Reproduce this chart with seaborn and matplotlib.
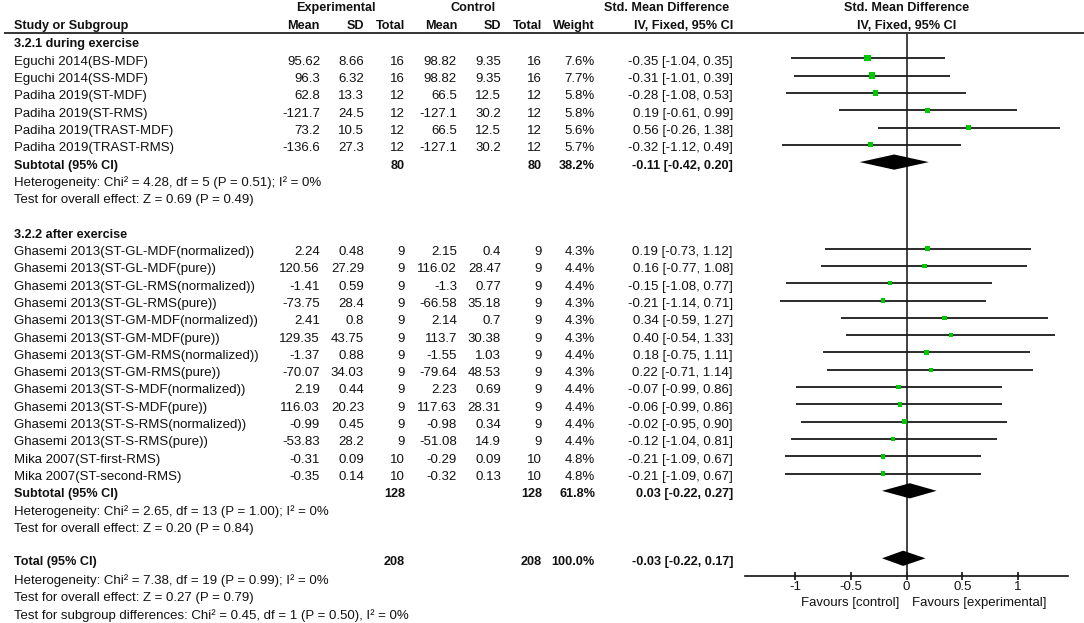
import matplotlib
matplotlib.use("Agg")
import matplotlib.pyplot as plt
import seaborn as sns
import pandas as pd

# Study level data
study = ["Eguchi 2014(BS-MDF)", "Eguchi 2014(SS-MDF)", "Padiha 2019(ST-MDF)",
         "Padiha 2019(ST-RMS)", "Padiha 2019(TRAST-MDF)", "Padiha 2019(TRAST-RMS)",
         "Ghasemi 2013(ST-GL-MDF(normalized))", "Ghasemi 2013(ST-GL-MDF(pure))",
         "Ghasemi 2013(ST-GL-RMS(normalized))", "Ghasemi 2013(ST-GL-RMS(pure))",
         "Ghasemi 2013(ST-GM-MDF(normalized))", "Ghasemi 2013(ST-GM-MDF(pure))",
         "Ghasemi 2013(ST-GM-RMS(normalized))", "Ghasemi 2013(ST-GM-RMS(pure))",
         "Ghasemi 2013(ST-S-MDF(normalized))", "Ghasemi 2013(ST-S-MDF(pure))",
         "Ghasemi 2013(ST-S-RMS(normalized))", "Ghasemi 2013(ST-S-RMS(pure))",
         "Mika 2007(ST-first-RMS)", "Mika 2007(ST-second-RMS)"]
exp_mean = [95.62, 96.3, 62.8, -121.7, 73.2, -136.6,
            2.24, 120.56, -1.41, -73.75, 2.41, 129.35, -1.37, -70.07,
            2.19, 116.03, -0.99, -53.83, -0.31, -0.35]
exp_sd = [8.66, 6.32, 13.3, 24.5, 10.5, 27.3,
          0.48, 27.29, 0.59, 28.4, 0.8, 43.75, 0.88, 34.03,
          0.44, 20.23, 0.45, 28.2, 0.09, 0.14]
exp_n = [16, 16, 12, 12, 12, 12] + [9] * 12 + [10, 10]
ctl_mean = [98.82, 98.82, 66.5, -127.1, 66.5, -127.1,
            2.15, 116.02, -1.3, -66.58, 2.14, 113.7, -1.55, -79.64,
            2.23, 117.63, -0.98, -51.08, -0.29, -0.32]
ctl_sd = [9.35, 9.35, 12.5, 30.2, 12.5, 30.2,
          0.4, 28.47, 0.77, 35.18, 0.7, 30.38, 1.03, 48.53,
          0.69, 28.31, 0.34, 14.9, 0.09, 0.13]
ctl_n = [16, 16, 12, 12, 12, 12] + [9] * 12 + [10, 10]
weight = [7.6, 7.7, 5.8, 5.8, 5.6, 5.7,
          4.3, 4.4, 4.4, 4.3, 4.3, 4.3, 4.4, 4.3, 4.4, 4.4, 4.4, 4.4, 4.8, 4.8]
smd = [-0.35, -0.31, -0.28, 0.19, 0.56, -0.32,
       0.19, 0.16, -0.15, -0.21, 0.34, 0.40, 0.18, 0.22, -0.07, -0.06, -0.02, -0.12, -0.21, -0.21]
ci_lo = [-1.04, -1.01, -1.08, -0.61, -0.26, -1.12,
         -0.73, -0.77, -1.08, -1.14, -0.59, -0.54, -0.75, -0.71, -0.99, -0.99, -0.95, -1.04, -1.09, -1.09]
ci_hi = [0.35, 0.39, 0.53, 0.99, 1.38, 0.49,
         1.12, 1.08, 0.77, 0.71, 1.27, 1.33, 1.11, 1.14, 0.86, 0.86, 0.90, 0.81, 0.67, 0.67]

# Pooled estimates
pool_label = ["Subtotal (95% CI)", "Subtotal (95% CI)", "Total (95% CI)"]
pool_exp_n = [80, 128, 208]
pool_ctl_n = [80, 128, 208]
pool_weight = [38.2, 61.8, 100.0]
pool_smd = [-0.11, 0.03, -0.03]
pool_lo = [-0.42, -0.22, -0.22]
pool_hi = [0.20, 0.27, 0.17]

group_titles = ["3.2.1 during exercise", "3.2.2 after exercise"]
notes = ["Heterogeneity: Chi\u00b2 = 4.28, df = 5 (P = 0.51); I\u00b2 = 0%",
         "Test for overall effect: Z = 0.69 (P = 0.49)",
         "Heterogeneity: Chi\u00b2 = 2.65, df = 13 (P = 1.00); I\u00b2 = 0%",
         "Test for overall effect: Z = 0.20 (P = 0.84)",
         "Heterogeneity: Chi\u00b2 = 7.38, df = 19 (P = 0.99); I\u00b2 = 0%",
         "Test for overall effect: Z = 0.27 (P = 0.79)",
         "Test for subgroup differences: Chi\u00b2 = 0.45, df = 1 (P = 0.50), I\u00b2 = 0%"]
xticks = [-1, -0.5, 0, 0.5, 1]
xtick_labels = ["-1", "-0.5", "0", "0.5", "1"]

# Row layout
study_rows = list(range(1, 7)) + list(range(12, 26))
pool_rows = [7, 26, 29.9]
title_rows = [0, 11]
note_rows = [8, 9, 27, 28, 31, 32, 33]
TOFF = 0.2
YLIM = (33.64, -2.37)

df = pd.DataFrame({"study": study, "smd": smd, "lo": ci_lo, "hi": ci_hi,
                   "weight": weight, "row": study_rows})

sns.set_style("white")
plt.rcParams["font.family"] = ["Liberation Sans", "DejaVu Sans"]
FS = 9.5
FSB = 9.1
TC = "#111111"

fig = plt.figure(figsize=(10.84, 6.23), dpi=100)

# table part
ax_t = fig.add_axes([0, 0, 1, 1])
ax_t.set_xlim(0, 1084)
ax_t.set_ylim(*YLIM)
ax_t.axis("off")

col_x = {"name": 14, "em": 320, "esd": 364, "en": 405, "cm": 457, "csd": 501,
         "cn": 542, "w": 595, "ci": 733}

def txt(x, y, s, ha="right", bold=False):
    ax_t.text(x, y + TOFF, s, ha=ha, va="center", fontsize=FSB if bold else FS, color=TC,
              fontweight="bold" if bold else "normal")

# headers
txt(336, -2.1, "Experimental", ha="center", bold=True)
txt(473, -2.1, "Control", ha="center", bold=True)
txt(729, -2.1, "Std. Mean Difference", bold=True)
txt(col_x["name"], -1.07, "Study or Subgroup", ha="left", bold=True)
for key, lab in [("em", "Mean"), ("esd", "SD"), ("en", "Total"), ("cm", "Mean"),
                 ("csd", "SD"), ("cn", "Total"), ("w", "Weight"), ("ci", "IV, Fixed, 95% CI")]:
    txt(col_x[key], -1.07, lab, bold=True)
ax_t.hlines(-0.46, 4, 1084, color=TC, lw=1.2)

for r, t in zip(title_rows, group_titles):
    txt(col_x["name"], r, t, ha="left", bold=True)

for i, r in enumerate(study_rows):
    txt(col_x["name"], r, study[i], ha="left")
    txt(col_x["em"], r, f"{exp_mean[i]:g}")
    txt(col_x["esd"], r, f"{exp_sd[i]:g}")
    txt(col_x["en"], r, f"{exp_n[i]}")
    txt(col_x["cm"], r, f"{ctl_mean[i]:g}")
    txt(col_x["csd"], r, f"{ctl_sd[i]:g}")
    txt(col_x["cn"], r, f"{ctl_n[i]}")
    txt(col_x["w"], r, f"{weight[i]:.1f}%")
    txt(col_x["ci"], r, f"{smd[i]:.2f} [{ci_lo[i]:.2f}, {ci_hi[i]:.2f}]")

for i, r in enumerate(pool_rows):
    txt(col_x["name"], r, pool_label[i], ha="left", bold=True)
    txt(col_x["en"], r, f"{pool_exp_n[i]}", bold=True)
    txt(col_x["cn"], r, f"{pool_ctl_n[i]}", bold=True)
    txt(col_x["w"], r, f"{pool_weight[i]:.1f}%", bold=True)
    txt(col_x["ci"], r, f"{pool_smd[i]:.2f} [{pool_lo[i]:.2f}, {pool_hi[i]:.2f}]", bold=True)

for r, t in zip(note_rows, notes):
    txt(col_x["name"], r, t, ha="left")

# forest part
ax = fig.add_axes([745 / 1084, 0, 323 / 1084, 1], sharey=ax_t)
ax.set_facecolor("none")
ax.set_xlim(-1.45, 1.45)
ax.set_ylim(*YLIM)
AXIS_Y = 30.92

ax.vlines(0, -0.46, AXIS_Y, color="#333333", lw=1.3, zorder=1)
ax.hlines(df["row"], df["lo"], df["hi"], color="#1a1a1a", lw=1.3, zorder=2)
sns.scatterplot(data=df, x="smd", y="row", size="weight", sizes=(10, 20),
                marker="s", color="#00c800", linewidth=0, legend=False,
                ax=ax, zorder=3)
for r, est, lo, hi in zip(pool_rows, pool_smd, pool_lo, pool_hi):
    ax.fill([lo, est, hi, est], [r, r - 0.44, r, r + 0.44], color="black", lw=0, zorder=4)

ax.text(0, -2.1 + TOFF, "Std. Mean Difference", ha="center", va="center",
        fontsize=FSB, fontweight="bold", color=TC)
ax.text(0, -1.07 + TOFF, "IV, Fixed, 95% CI", ha="center", va="center",
        fontsize=FSB, fontweight="bold", color=TC)

for s in ["left", "right", "top"]:
    ax.spines[s].set_visible(False)
ax.spines["bottom"].set_position(("data", AXIS_Y))
ax.spines["bottom"].set_color(TC)
ax.spines["bottom"].set_linewidth(1.2)
ax.set_xticks(xticks)
ax.set_xticklabels(xtick_labels)
ax.tick_params(axis="x", direction="inout", length=6, width=1.2, pad=1,
               labelsize=FS, colors=TC, bottom=True)
ax.tick_params(axis="y", left=False, labelleft=False)
ax.set_xlabel("")
ax.set_ylabel("")
ax.text(-0.06, 32.5, "Favours [control]", ha="right", va="center", fontsize=FS, color=TC)
ax.text(0.05, 32.5, "Favours [experimental]", ha="left", va="center", fontsize=FS, color=TC)

fig.savefig("out.png", dpi=100)
